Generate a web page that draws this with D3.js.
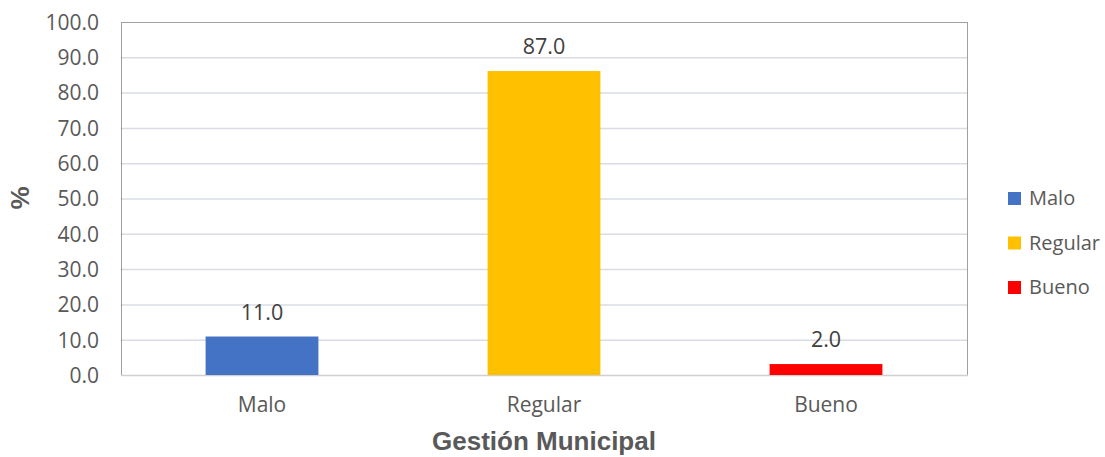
<!DOCTYPE html>
<html><head><meta charset="utf-8">
<script src="https://cdn.jsdelivr.net/npm/d3@7"></script>
<style>body{margin:0;background:#fff}svg{display:block}</style>
</head><body><svg id="c" width="1105" height="457"></svg>
<script>
const categories = ["Malo", "Regular", "Bueno"];
const values = [10.9, 86.1, 3.1];
const labels = ["11.0", "87.0", "2.0"];
const colors = ["#4472C4", "#FFC000", "#FF0000"];
const yTicks = [0,10,20,30,40,50,60,70,80,90,100];

const svg = d3.select("#c");
const m = {l:121, r:967, t:22, b:375};
const x = d3.scaleBand().domain(categories).range([m.l, m.r]).padding(0);
const y = d3.scaleLinear().domain([0,100]).range([m.b, m.t]);
const font = "'Open Sans', sans-serif";

// gridlines
svg.append("g").selectAll("line").data(yTicks.filter(d=>d>0 && d<100)).join("line")
  .attr("x1", m.l).attr("x2", m.r).attr("y1", d=>y(d)+0.5).attr("y2", d=>y(d)+0.5)
  .attr("stroke", "#d9dce3").attr("stroke-width", 1.5);

// frame (dotted)
svg.append("rect").attr("x", m.l+0.5).attr("y", m.t+0.5).attr("width", m.r-m.l).attr("height", m.b-m.t)
  .attr("fill","none").attr("stroke","#404040").attr("stroke-width",1).attr("stroke-dasharray","1,1");
// bottom axis line
svg.append("line").attr("x1", m.l).attr("x2", m.r+1).attr("y1", m.b+0.5).attr("y2", m.b+0.5)
  .attr("stroke","#d0d0d0").attr("stroke-width",1.5);

// bars
const bw = x.bandwidth()*0.4;
svg.append("g").selectAll("rect").data(categories).join("rect")
  .attr("x", d=>x(d)+x.bandwidth()/2-bw/2).attr("width", bw)
  .attr("y", (d,i)=>y(values[i])).attr("height", (d,i)=>y(0)-y(values[i]))
  .attr("fill", (d,i)=>colors[i]);

// data labels
svg.append("g").selectAll("text").data(categories).join("text")
  .attr("x", d=>x(d)+x.bandwidth()/2).attr("y", (d,i)=>y(values[i])-17)
  .attr("text-anchor","middle").attr("font-family", font).attr("font-size", 21.5)
  .attr("fill","#404040").text((d,i)=>labels[i]);

// y axis
const yAxis = d3.axisLeft(y).tickValues(yTicks).tickFormat(d3.format(".1f")).tickSize(0).tickPadding(22);
const gy = svg.append("g").attr("transform", `translate(${m.l},0)`).call(yAxis);
gy.select(".domain").remove();
gy.selectAll("text").attr("font-family", font).attr("font-size", 21).attr("fill","#595959").attr("dy","0.35em");

// x axis
const xAxis = d3.axisBottom(x).tickSize(0).tickPadding(22);
const gx = svg.append("g").attr("transform", `translate(0,${m.b})`).call(xAxis);
gx.select(".domain").remove();
gx.selectAll("text").attr("font-family", font).attr("font-size", 21).attr("fill","#595959");

// axis titles
svg.append("text").attr("x", (m.l+m.r)/2).attr("y", 450).attr("text-anchor","middle")
  .attr("font-family","'Liberation Sans', Arial, sans-serif").attr("font-weight","bold")
  .attr("font-size", 26).attr("fill","#595959").text("Gestión Municipal");
svg.append("text").attr("transform", "translate(29,198) rotate(-90)").attr("text-anchor","middle")
  .attr("font-family","'Liberation Sans', Arial, sans-serif").attr("font-weight","bold")
  .attr("font-size", 26).attr("fill","#595959").text("%");

// legend
const lg = svg.append("g").selectAll("g").data(categories).join("g")
  .attr("transform", (d,i)=>`translate(1008,${198+i*44.5})`);
lg.append("rect").attr("x",0).attr("y",-6).attr("width",13).attr("height",13).attr("fill",(d,i)=>colors[i]);
lg.append("text").attr("x",21).attr("y",0).attr("dy","0.35em").attr("font-family", font)
  .attr("font-size", 20).attr("fill","#595959").text(d=>d);
</script></body></html>
